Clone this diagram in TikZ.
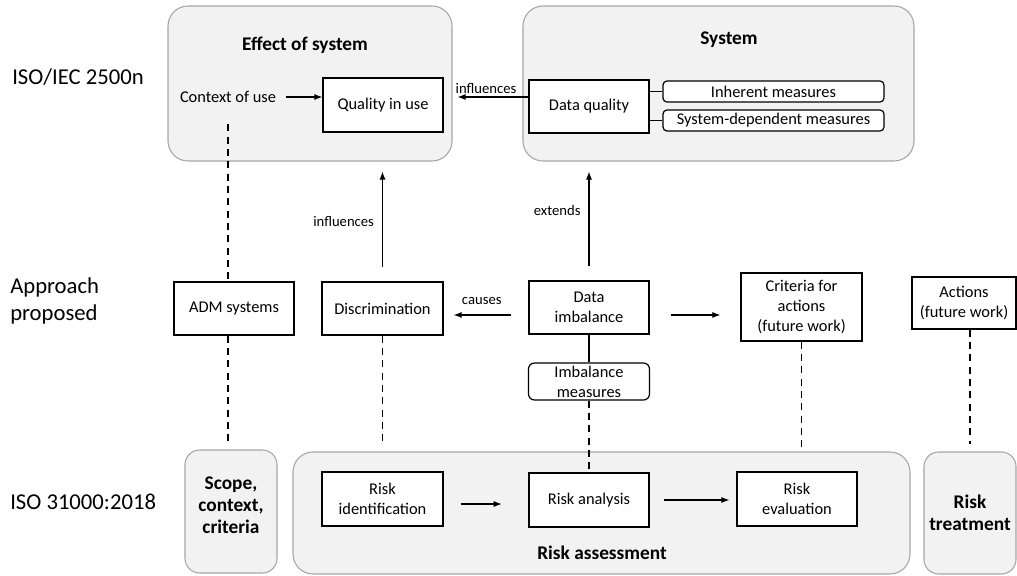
\documentclass[tikz,border=0pt]{standalone}
\usepackage{fontspec}
\setmainfont{Carlito}
\usetikzlibrary{arrows.meta}
\definecolor{grpfill}{HTML}{F2F2F2}
\definecolor{grpline}{HTML}{A6A6A6}

\begin{document}
\begin{tikzpicture}[x=0.75pt, y=-0.75pt,
    group/.style={draw=grpline, fill=grpfill, line width=0.8pt, rounded corners=15pt, inner sep=0pt},
    box/.style={draw, fill=white, line width=0.9pt, inner sep=0pt, align=center, font=\fontsize{12.3}{15}\selectfont},
    measure/.style={box, rounded corners=3pt},
    txt/.style={inner sep=0pt, align=center, font=\fontsize{12.3}{15}\selectfont},
    small/.style={inner sep=0pt, font=\fontsize{11}{13}\selectfont},
    title/.style={inner sep=0pt, align=center, font=\fontsize{14.5}{16.5}\selectfont\bfseries},
    level/.style={inner sep=0pt, anchor=west, align=left, font=\fontsize{17}{20}\selectfont},
    arr/.style={-{Latex[length=6pt,width=4.5pt]}, line width=0.8pt},
    link/.style={line width=0.8pt},
    dashline/.style={line width=1.1pt, dash pattern=on 5.25pt off 4pt}]
    \useasboundingbox (0,0) rectangle (1017,575);

    % Levels
    \node[level] (lvIso) at (12,77) {ISO/IEC 2500n};
    \node[level] (lvApp) at (10,301) {Approach\\proposed};
    \node[level] (lvRisk) at (10,502) {ISO 31000:2018};

    % Top row: effect of system and system
    \node[group, minimum width=213pt, minimum height=116.25pt] (effect) at (310,83.5) {};
    \node[title] (tEffect) at (305,45) {Effect of system};
    \node[txt] (ctx) at (228,97) {Context of use};
    \node[box, minimum width=90pt, minimum height=40.5pt] (quse) at (383,105) {Quality in use};
    \node[group, minimum width=293.25pt, minimum height=116.25pt] (system) at (718.5,83.5) {};
    \node[title] (tSystem) at (729,40) {System};
    \node[box, minimum width=90pt, minimum height=39.75pt] (dq) at (589,106.5) {Data quality};
    \node[measure, minimum width=165.75pt, minimum height=15.75pt] (inh) at (773.5,91.5) {Inherent measures};
    \node[measure, minimum width=165.75pt, minimum height=15.75pt] (sysdep) at (773.5,120.5) {System-dependent measures};

    % Middle row: approach proposed
    \node[box, minimum width=90pt, minimum height=39.75pt] (adm) at (234,308.5) {ADM systems};
    \node[box, minimum width=90.75pt, minimum height=39.75pt] (discr) at (382.5,308.5) {Discrimination};
    \node[box, minimum width=90pt, minimum height=39.75pt] (imb) at (589,307.5) {Data\\imbalance};
    \node[measure, rounded corners=4.5pt, minimum width=90.75pt, minimum height=27.75pt] (imbm) at (589,381.5) {Imbalance\\measures};
    \node[box, minimum width=90.75pt, minimum height=51pt] (crit) at (801.5,307) {Criteria for\\actions\\(future work)};
    \node[box, minimum width=78pt, minimum height=39pt] (act) at (964,303) {Actions\\(future work)};

    % Bottom row: ISO 31000
    \node[group, rounded corners=11pt, minimum width=69pt, minimum height=92.25pt] (scope) at (231,511.5) {};
    \node[title] (tScope) at (231,505) {Scope,\\context,\\criteria};
    \node[group, minimum width=462.75pt, minimum height=91.5pt] (assess) at (601.5,513) {};
    \node[title] (tAssess) at (602,553) {Risk assessment};
    \node[group, rounded corners=11pt, minimum width=69pt, minimum height=91.5pt, align=center,
        font=\fontsize{14.5}{16.5}\selectfont\bfseries] (treat) at (970,513) {Risk\\treatment};
    \node[box, minimum width=90.75pt, minimum height=40.5pt] (rid) at (382.5,499) {Risk\\identification};
    \node[box, minimum width=90pt, minimum height=40.5pt] (ran) at (589,500) {Risk analysis};
    \node[box, minimum width=90pt, minimum height=40.5pt] (rev) at (797,499) {Risk\\evaluation};

    % Arrows and links
    \draw[arr, shorten <=7pt] (ctx.east) -- (ctx.east -| quse.west);
    \draw[arr, shorten >=10.5pt] (dq.west |- ctx.east) -- (quse.east |- ctx.east)
        node[small, midway, above=2.5pt] (lInfl) {influences};
    \draw[link] (dq.east |- inh.west) -- (inh.west);
    \draw[link] (dq.east |- sysdep.west) -- (sysdep.west);
    \draw[arr, shorten <=10.5pt, shorten >=7.5pt] (discr.north) -- (discr.north |- effect.south)
        node[small, midway, left=6pt] (lInfl2) {influences};
    \draw[arr, shorten <=10.5pt, shorten >=7.5pt] (imb.north) -- (imb.north |- system.south)
        node[small, pos=0.59, left=6pt] (lExt) {extends};
    \draw[arr, shorten <=12.75pt, shorten >=7.5pt] ([yshift=-5.6pt]imb.west) -- ([yshift=-5.6pt]imb.west -| discr.east)
        node[small, pos=0.55, above=7.5pt] (lCause) {causes};
    \draw[arr, shorten <=15.75pt, shorten >=15pt] ([yshift=-5.6pt]imb.east) -- ([yshift=-5.6pt]imb.east -| crit.west);
    \draw[link] (imb) -- (imbm);
    \draw[arr, shorten <=12.75pt, shorten >=20pt] ([yshift=-3.75pt]rid.east) -- ([yshift=-3.75pt]rid.east -| ran.west);
    \draw[arr, shorten <=10.5pt, shorten >=5.25pt] (ran.east) -- (ran.east -| rev.west);

    % Dashed correspondences
    \draw[dashline, shorten <=16pt] (ctx.south) -- (ctx.south |- adm.north);
    \draw[dashline, shorten >=3.75pt] (ctx.south |- adm.south) -- (ctx.south |- scope.north);
    \draw[dashline, shorten >=6pt] (discr.south) -- (discr.south |- assess.north);
    \draw[dashline] (imbm.south) -- (ran.north);
    \draw[dashline] (crit.south) -- (crit.south |- assess.north);
    \draw[dashline, shorten >=5.25pt] (treat.north |- act.south) -- (treat.north);
\end{tikzpicture}
\end{document}
